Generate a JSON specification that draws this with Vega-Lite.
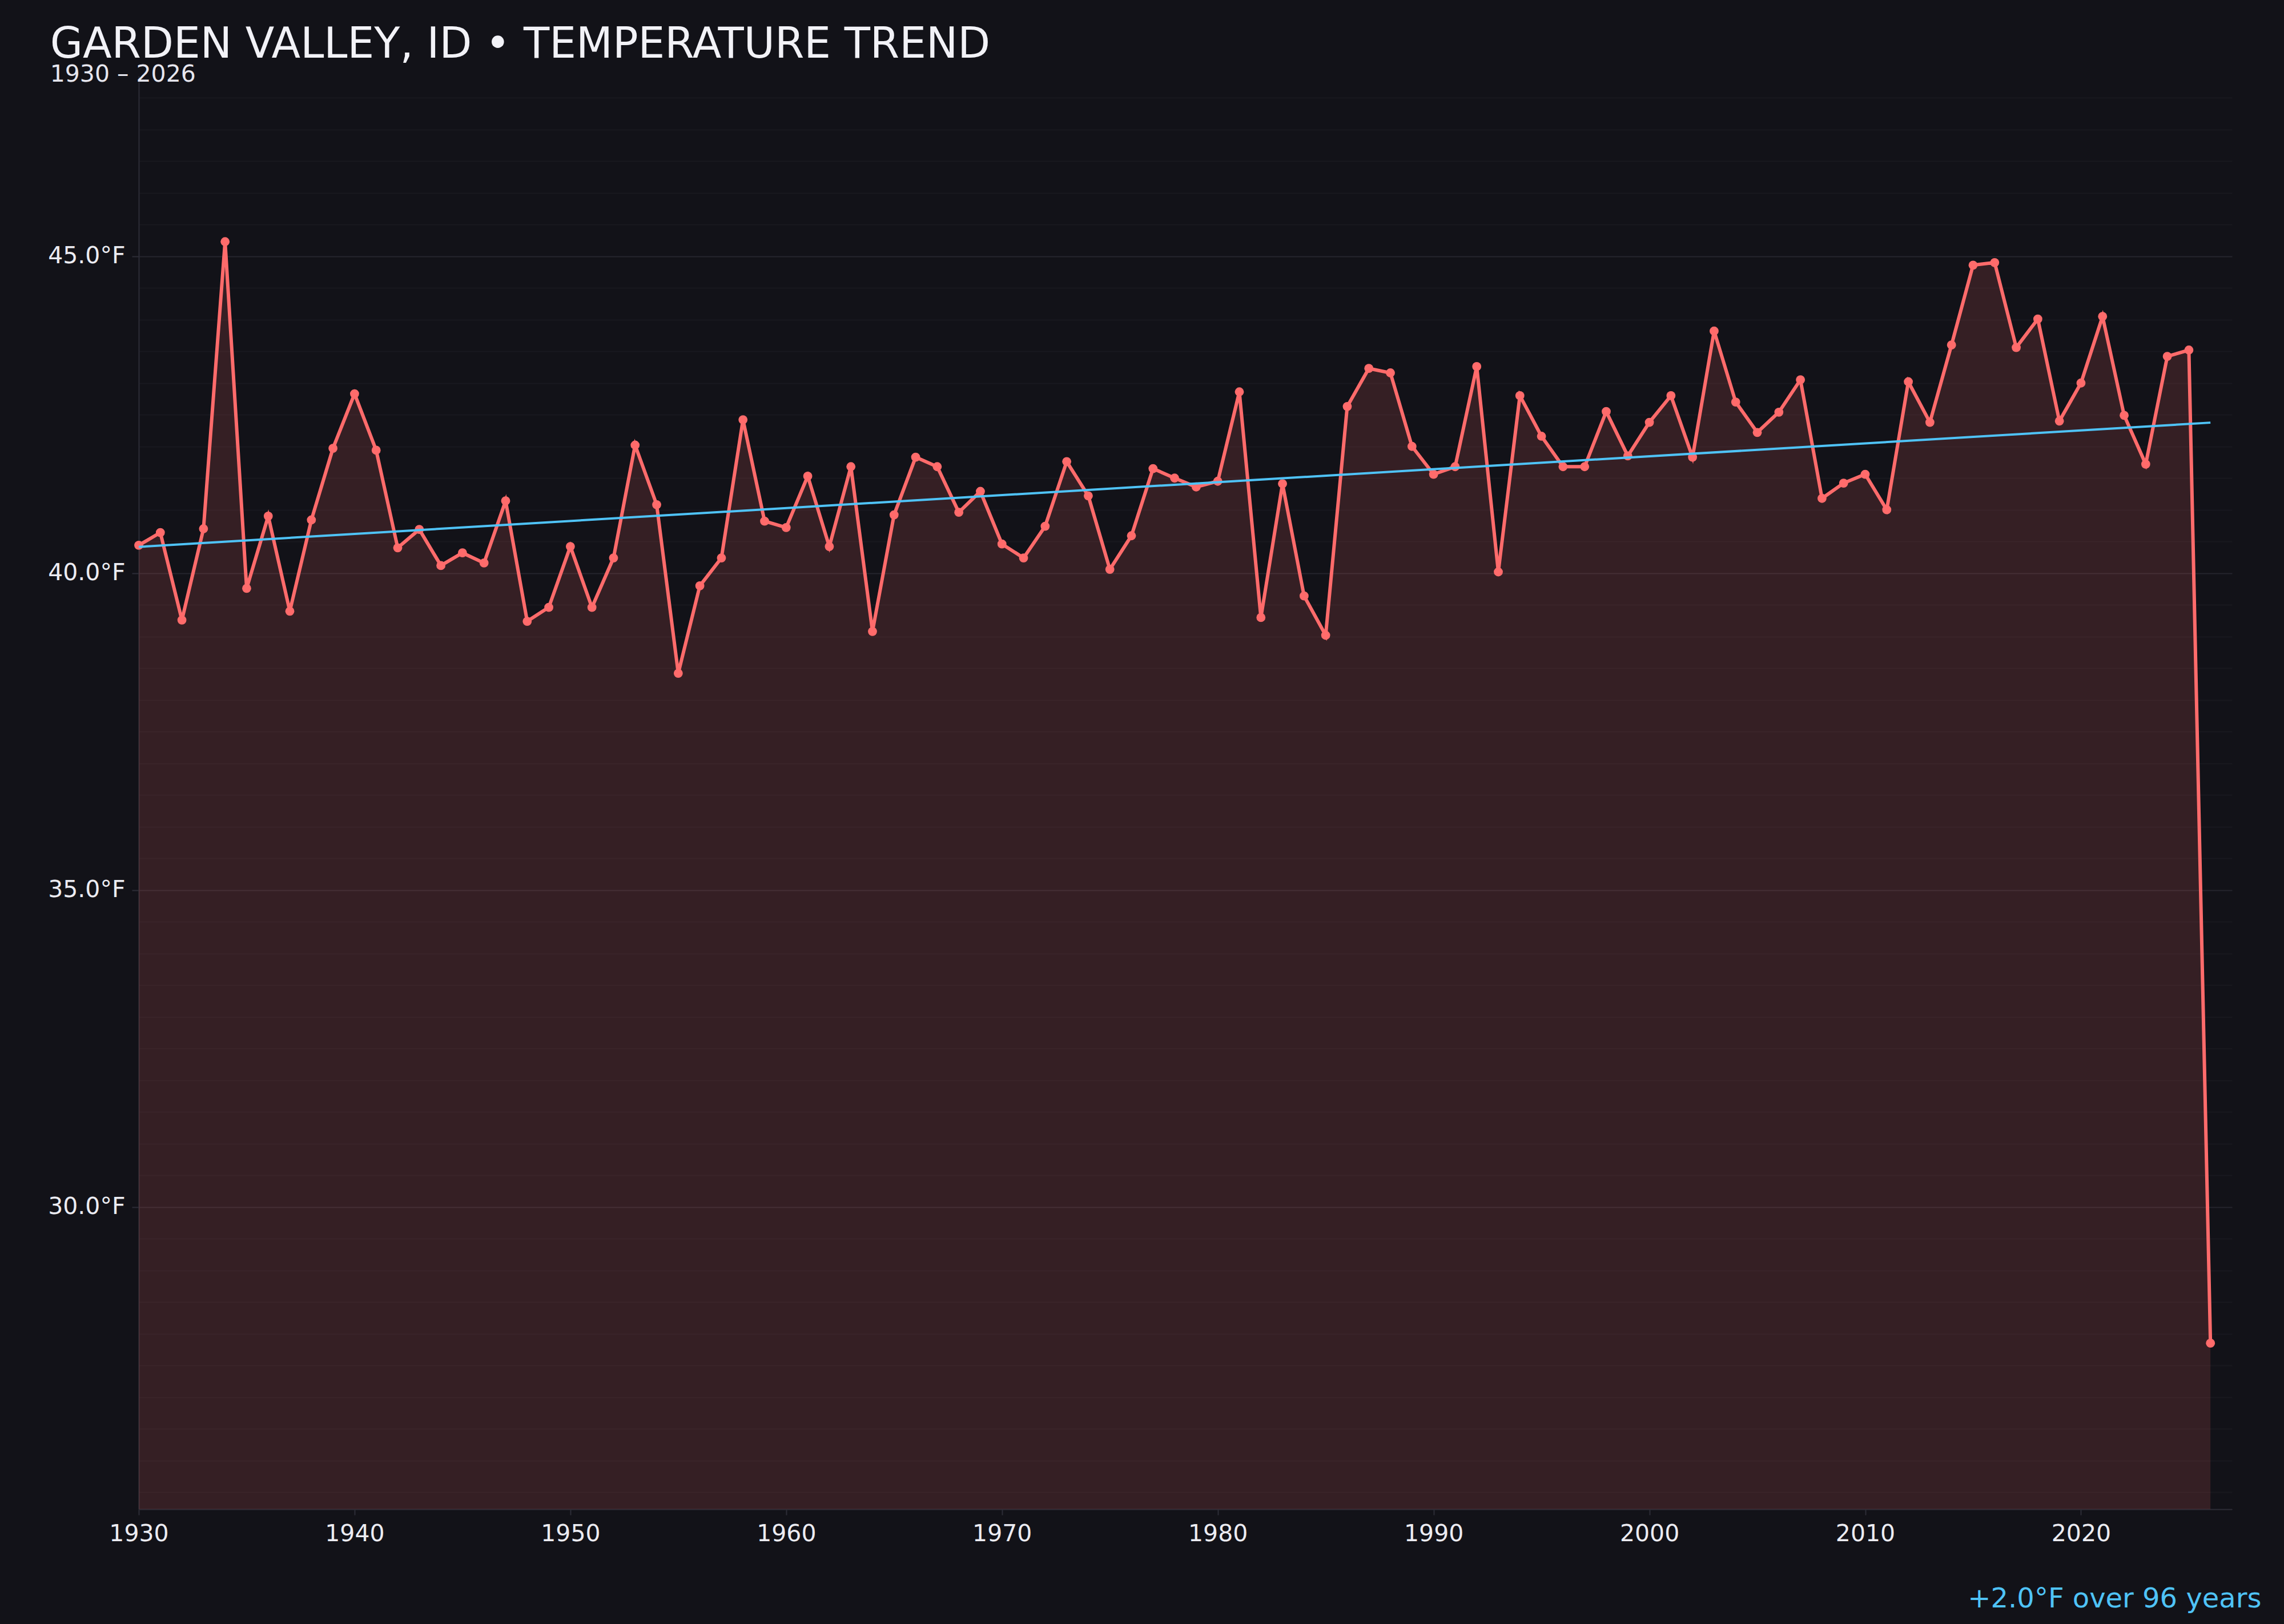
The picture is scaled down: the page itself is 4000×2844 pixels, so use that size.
{
  "$schema": "https://vega.github.io/schema/vega-lite/v6.json",
  "autosize": {"type": "none"},
  "width": 3666,
  "height": 2510,
  "padding": {"left": 243, "top": 133, "right": 91, "bottom": 201},
  "background": "#121218",
  "title": {
    "text": "GARDEN VALLEY, ID • TEMPERATURE TREND",
    "subtitle": "1930 – 2026",
    "anchor": "start",
    "frame": "bounds",
    "font": "DejaVu Sans",
    "fontSize": 74,
    "fontWeight": "normal",
    "color": "#f2f2f7",
    "subtitleFont": "DejaVu Sans",
    "subtitleFontSize": 41,
    "subtitleColor": "#e6e6ee",
    "subtitlePadding": -6,
    "offset": -19,
    "dx": 4
  },
  "data": {
    "values": [
      {"year": 1930, "temp": 40.44}, {"year": 1931, "temp": 40.64}, {"year": 1932, "temp": 39.26},
      {"year": 1933, "temp": 40.70}, {"year": 1934, "temp": 45.23}, {"year": 1935, "temp": 39.76},
      {"year": 1936, "temp": 40.90}, {"year": 1937, "temp": 39.40}, {"year": 1938, "temp": 40.84},
      {"year": 1939, "temp": 41.97}, {"year": 1940, "temp": 42.83}, {"year": 1941, "temp": 41.94},
      {"year": 1942, "temp": 40.40}, {"year": 1943, "temp": 40.69}, {"year": 1944, "temp": 40.12},
      {"year": 1945, "temp": 40.32}, {"year": 1946, "temp": 40.16}, {"year": 1947, "temp": 41.14},
      {"year": 1948, "temp": 39.24}, {"year": 1949, "temp": 39.46}, {"year": 1950, "temp": 40.42},
      {"year": 1951, "temp": 39.46}, {"year": 1952, "temp": 40.24}, {"year": 1953, "temp": 42.02},
      {"year": 1954, "temp": 41.08}, {"year": 1955, "temp": 38.42}, {"year": 1956, "temp": 39.80},
      {"year": 1957, "temp": 40.24}, {"year": 1958, "temp": 42.42}, {"year": 1959, "temp": 40.82},
      {"year": 1960, "temp": 40.72}, {"year": 1961, "temp": 41.53}, {"year": 1962, "temp": 40.42},
      {"year": 1963, "temp": 41.68}, {"year": 1964, "temp": 39.08}, {"year": 1965, "temp": 40.92},
      {"year": 1966, "temp": 41.83}, {"year": 1967, "temp": 41.68}, {"year": 1968, "temp": 40.96},
      {"year": 1969, "temp": 41.29}, {"year": 1970, "temp": 40.46}, {"year": 1971, "temp": 40.24},
      {"year": 1972, "temp": 40.74}, {"year": 1973, "temp": 41.76}, {"year": 1974, "temp": 41.22},
      {"year": 1975, "temp": 40.06}, {"year": 1976, "temp": 40.59}, {"year": 1977, "temp": 41.65},
      {"year": 1978, "temp": 41.50}, {"year": 1979, "temp": 41.36}, {"year": 1980, "temp": 41.45},
      {"year": 1981, "temp": 42.86}, {"year": 1982, "temp": 39.30}, {"year": 1983, "temp": 41.41},
      {"year": 1984, "temp": 39.64}, {"year": 1985, "temp": 39.02}, {"year": 1986, "temp": 42.63},
      {"year": 1987, "temp": 43.23}, {"year": 1988, "temp": 43.16}, {"year": 1989, "temp": 42.00},
      {"year": 1990, "temp": 41.56}, {"year": 1991, "temp": 41.68}, {"year": 1992, "temp": 43.26},
      {"year": 1993, "temp": 40.02}, {"year": 1994, "temp": 42.80}, {"year": 1995, "temp": 42.16},
      {"year": 1996, "temp": 41.68}, {"year": 1997, "temp": 41.68}, {"year": 1998, "temp": 42.55},
      {"year": 1999, "temp": 41.85}, {"year": 2000, "temp": 42.38}, {"year": 2001, "temp": 42.80},
      {"year": 2002, "temp": 41.83}, {"year": 2003, "temp": 43.82}, {"year": 2004, "temp": 42.70},
      {"year": 2005, "temp": 42.22}, {"year": 2006, "temp": 42.54}, {"year": 2007, "temp": 43.05},
      {"year": 2008, "temp": 41.18}, {"year": 2009, "temp": 41.42}, {"year": 2010, "temp": 41.56},
      {"year": 2011, "temp": 41.00}, {"year": 2012, "temp": 43.02}, {"year": 2013, "temp": 42.38},
      {"year": 2014, "temp": 43.60}, {"year": 2015, "temp": 44.86}, {"year": 2016, "temp": 44.90},
      {"year": 2017, "temp": 43.56}, {"year": 2018, "temp": 44.01}, {"year": 2019, "temp": 42.40},
      {"year": 2020, "temp": 43.00}, {"year": 2021, "temp": 44.05}, {"year": 2022, "temp": 42.49},
      {"year": 2023, "temp": 41.72}, {"year": 2024, "temp": 43.42}, {"year": 2025, "temp": 43.52},
      {"year": 2026, "temp": 27.85}
    ]
  },
  "encoding": {
    "x": {
      "field": "year",
      "type": "quantitative",
      "scale": {"domain": [1930, 2027], "nice": false, "zero": false},
      "axis": {
        "values": [1930, 1940, 1950, 1960, 1970, 1980, 1990, 2000, 2010, 2020],
        "format": "d",
        "grid": false,
        "labelFlush": false,
        "domainColor": "#2c2c36",
        "domainWidth": 2,
        "tickColor": "#2c2c36",
        "tickWidth": 2,
        "tickSize": 10,
        "labelFont": "DejaVu Sans",
        "labelFontSize": 41,
        "labelColor": "#ececf2",
        "labelPadding": 13,
        "title": "+2.0°F over 96 years",
        "titleFont": "DejaVu Sans",
        "titleFontSize": 48,
        "titleFontWeight": "normal",
        "titleColor": "#4fc3f7",
        "titleAlign": "right",
        "titleBaseline": "alphabetic",
        "titleX": 3717,
        "titleY": 171
      }
    },
    "y": {
      "field": "temp",
      "type": "quantitative",
      "scale": {"domain": [25.23, 47.845], "nice": false, "zero": false},
      "axis": {
        "values": [25.5, 26, 26.5, 27, 27.5, 28, 28.5, 29, 29.5, 30, 30.5, 31, 31.5, 32, 32.5, 33, 33.5, 34, 34.5, 35, 35.5, 36, 36.5, 37, 37.5, 38, 38.5, 39, 39.5, 40, 40.5, 41, 41.5, 42, 42.5, 43, 43.5, 44, 44.5, 45, 45.5, 46, 46.5, 47, 47.5],
        "labelExpr": "datum.value % 5 === 0 ? format(datum.value, '.1f') + '°F' : ''",
        "title": null,
        "grid": true,
        "gridColor": {"condition": {"test": "datum.value % 5 === 0", "value": "#25252d"}, "value": "#18181f"},
        "gridWidth": 2,
        "domainColor": "#2c2c36",
        "domainWidth": 2,
        "tickColor": "#2c2c36",
        "tickOpacity": {"condition": {"test": "datum.value % 5 === 0", "value": 1}, "value": 0},
        "tickWidth": 2,
        "tickSize": 12,
        "labelFont": "DejaVu Sans",
        "labelFontSize": 41,
        "labelColor": "#ececf2",
        "labelPadding": 12
      }
    }
  },
  "layer": [
    {
      "mark": {"type": "area", "color": "#ff6b6b", "opacity": 0.15, "clip": true}
    },
    {
      "mark": {"type": "line", "color": "#ff6b6b", "strokeWidth": 6}
    },
    {
      "mark": {"type": "point", "filled": true, "color": "#ff6b6b", "size": 250, "opacity": 1}
    },
    {
      "transform": [
        {"regression": "temp", "on": "year", "extent": [1930, 2026]}
      ],
      "mark": {"type": "line", "color": "#4fc3f7", "strokeWidth": 4}
    }
  ],
  "config": {
    "view": {"stroke": null},
    "font": "DejaVu Sans"
  }
}
